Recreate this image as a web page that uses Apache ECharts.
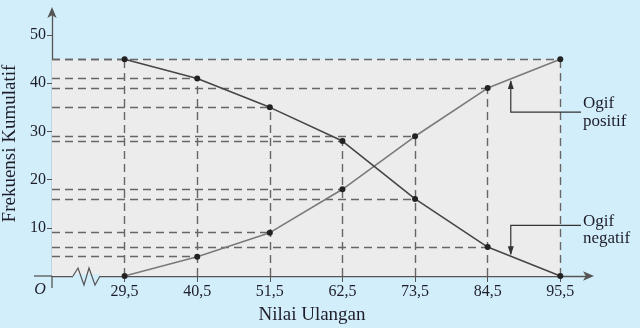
<!DOCTYPE html>
<html><head><meta charset="utf-8">
<script src="https://cdn.jsdelivr.net/npm/echarts@6/dist/echarts.min.js"></script>
<style>html,body{margin:0;padding:0;background:#d3eefb}#c{width:640px;height:328px}</style>
</head><body><div id="c"></div>
<script>
const batasKelas = [29.5, 40.5, 51.5, 62.5, 73.5, 84.5, 95.5];
const tickLabels = ['29,5', '40,5', '51,5', '62,5', '73,5', '84,5', '95,5'];
const ogifPositif = [0, 4, 9, 18, 29, 39, 45];
const ogifNegatif = [45, 41, 35, 28, 16, 6, 0];
const yTicks = [10, 20, 30, 40, 50];

const X_MIN = 18.5, X_MAX = 100, Y_MAX = 55;
const FONT = 'Liberation Serif';
const TXT = '#1e1e2a';

const dashLines = [];
batasKelas.forEach((x, i) => {
  [ogifPositif[i], ogifNegatif[i]].forEach(v => {
    if (v > 0) dashLines.push([{coord: [X_MIN, v]}, {coord: [x, v]}]);
  });
  dashLines.push([{coord: [x, 0]}, {coord: [x, Math.max(ogifPositif[i], ogifNegatif[i])]}]);
});

const chart = echarts.init(document.getElementById('c'), null, {renderer: 'canvas'});
chart.setOption({
  backgroundColor: '#d3eefb',
  animation: false,
  grid: {left: 52, right: 50, top: 11, bottom: 52, containLabel: false, outerBoundsMode: 'none'},
  xAxis: {
    type: 'value', min: X_MIN, max: X_MAX,
    splitLine: {show: false},
    axisLine: {lineStyle: {color: '#555', width: 1.3}, symbol: ['none', 'arrow'], symbolSize: [7, 11], symbolOffset: [0, 4]},
    axisTick: {show: true, customValues: batasKelas, length: 6, lineStyle: {color: '#555'}},
    axisLabel: {customValues: batasKelas, formatter: v => tickLabels[batasKelas.indexOf(v)] || '',
      fontFamily: FONT, fontSize: 16, color: TXT, margin: 8},
    name: 'Nilai Ulangan', nameLocation: 'middle', nameGap: 30,
    nameTextStyle: {fontFamily: FONT, fontSize: 19, color: TXT, padding: [0, 18, 0, 0]}
  },
  yAxis: {
    type: 'value', min: 0, max: Y_MAX, interval: 10,
    splitLine: {show: false},
    axisLine: {show: true, lineStyle: {color: '#555', width: 1.3}, symbol: ['none', 'arrow'], symbolSize: [7, 11], symbolOffset: [0, 4]},
    axisTick: {show: true, customValues: yTicks, length: 5, lineStyle: {color: '#555'}},
    axisLabel: {customValues: yTicks, fontFamily: FONT, fontSize: 16, color: TXT, margin: 6},
    name: 'Frekuensi Kumulatif', nameLocation: 'middle', nameGap: 26, nameRotate: 90,
    nameTextStyle: {fontFamily: FONT, fontSize: 19, color: TXT}
  },
  series: [
    {
      type: 'line', name: 'Ogif positif',
      data: batasKelas.map((x, i) => [x, ogifPositif[i]]),
      lineStyle: {color: '#7a7a7a', width: 1.6},
      symbol: 'circle', symbolSize: 6, itemStyle: {color: '#222'}, z: 5,
      markArea: {silent: true, itemStyle: {color: '#ececec'},
        data: [[{coord: [X_MIN, 0]}, {coord: [batasKelas[batasKelas.length - 1], Math.max(...ogifPositif)]}]]},
      markLine: {silent: true, symbol: 'none', label: {show: false},
        lineStyle: {color: '#666', type: [8, 5], width: 1.4}, data: dashLines}
    },
    {
      type: 'line', name: 'Ogif negatif',
      data: batasKelas.map((x, i) => [x, ogifNegatif[i]]),
      lineStyle: {color: '#464646', width: 1.6},
      symbol: 'circle', symbolSize: 6, itemStyle: {color: '#222'}, z: 5
    }
  ]
});

function px(x, y) { return chart.convertToPixel({gridIndex: 0}, [x, y]); }
function interp(arr, x) {
  for (let i = 0; i < batasKelas.length - 1; i++) {
    if (x >= batasKelas[i] && x <= batasKelas[i + 1]) {
      const t = (x - batasKelas[i]) / (batasKelas[i + 1] - batasKelas[i]);
      return arr[i] + t * (arr[i + 1] - arr[i]);
    }
  }
  return 0;
}
const o = px(X_MIN, 0);
const annX = 88;
const tipP = px(annX, interp(ogifPositif, annX));
const tipN = px(annX, interp(ogifNegatif, annX));
const elbowP = px(annX, 34.0);
const elbowN = px(annX, 10.5);
const textX = 583;
const g = [];
// zigzag break on x axis
const zx = o[0] + 21, zy = o[1];
g.push({type: 'rect', shape: {x: zx, y: zy - 2, width: 27, height: 4}, style: {fill: '#d3eefb'}, z: 50});
g.push({type: 'polyline', shape: {points: [[zx, zy], [zx + 5, zy - 8], [zx + 11, zy + 9], [zx + 16, zy - 8], [zx + 22, zy + 9], [zx + 27, zy]]},
  style: {stroke: '#555', lineWidth: 1.2, fill: null}, z: 51});
// axis extensions
g.push({type: 'line', shape: {x1: o[0] - 18, y1: o[1], x2: o[0], y2: o[1]}, style: {stroke: '#555', lineWidth: 1.3}, z: 50});
g.push({type: 'line', shape: {x1: o[0], y1: o[1], x2: o[0], y2: o[1] + 12}, style: {stroke: '#555', lineWidth: 1.3}, z: 50});
g.push({type: 'text', x: o[0] - 12, y: o[1] + 14, style: {text: 'O', font: 'italic 16px ' + FONT, fill: TXT, textAlign: 'center', textVerticalAlign: 'middle'}, z: 50});
// annotations
function connector(tip, elbow, up) {
  g.push({type: 'polyline', shape: {points: [[textX - 2, elbow[1]], [elbow[0], elbow[1]], [tip[0], tip[1] + (up ? 2 : -2)]]},
    style: {stroke: '#333', lineWidth: 1.2, fill: null}, z: 50});
  const d = up ? 1 : -1;
  g.push({type: 'polygon', shape: {points: [[tip[0], tip[1] + d], [tip[0] - 3, tip[1] + d * 10], [tip[0] + 3, tip[1] + d * 10]]},
    style: {fill: '#333'}, z: 50});
}
connector(tipP, elbowP, true);
connector(tipN, elbowN, false);
g.push({type: 'text', x: textX, y: elbowP[1] - 9, style: {text: 'Ogif', font: '17px ' + FONT, fill: TXT, textVerticalAlign: 'middle'}, z: 50});
g.push({type: 'text', x: textX, y: elbowP[1] + 9, style: {text: 'positif', font: '17px ' + FONT, fill: TXT, textVerticalAlign: 'middle'}, z: 50});
g.push({type: 'text', x: textX, y: elbowN[1] - 4, style: {text: 'Ogif', font: '17px ' + FONT, fill: TXT, textVerticalAlign: 'middle'}, z: 50});
g.push({type: 'text', x: textX, y: elbowN[1] + 13, style: {text: 'negatif', font: '17px ' + FONT, fill: TXT, textVerticalAlign: 'middle'}, z: 50});
chart.setOption({graphic: g});
</script></body></html>
